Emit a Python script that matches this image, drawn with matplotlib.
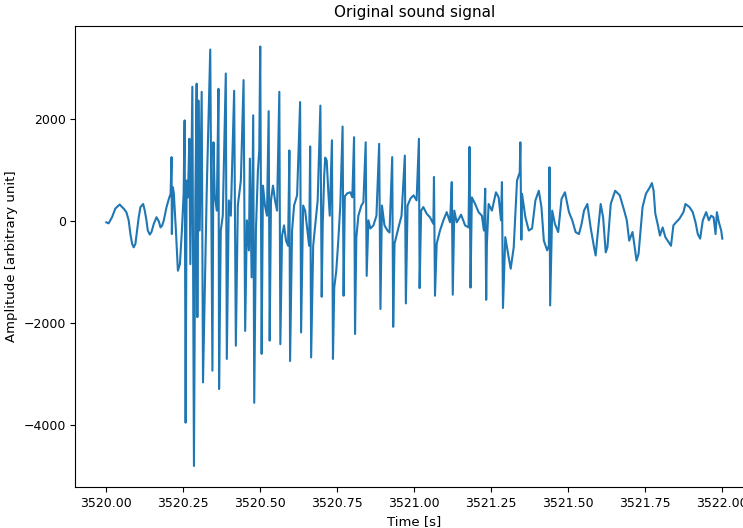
import matplotlib
matplotlib.use("Agg")
import matplotlib.pyplot as plt

# samples (time in s, amplitude in arbitrary units)
time_s = [
    3520.0000, 3520.0075, 3520.0186, 3520.0293, 3520.0434, 3520.0512, 3520.0564, 3520.0652,
    3520.0727, 3520.0783, 3520.0838, 3520.0890, 3520.0946, 3520.1001, 3520.1053, 3520.1109,
    3520.1197, 3520.1249, 3520.1304, 3520.1347, 3520.1412, 3520.1467, 3520.1542, 3520.1630,
    3520.1705, 3520.1761, 3520.1816, 3520.1868, 3520.1956, 3520.2031, 3520.2087, 3520.2119,
    3520.2129, 3520.2162, 3520.2194, 3520.2260, 3520.2325, 3520.2390, 3520.2455, 3520.2511,
    3520.2543, 3520.2576, 3520.2608, 3520.2651, 3520.2696, 3520.2729, 3520.2794, 3520.2846,
    3520.2892, 3520.2934, 3520.2957, 3520.2990, 3520.3032, 3520.3097, 3520.3140, 3520.3205,
    3520.3261, 3520.3375, 3520.3446,
    3520.3479, 3520.3521, 3520.3587, 3520.3642, 3520.3662, 3520.3717, 3520.3782, 3520.3880,
    3520.3913, 3520.3978, 3520.4043, 3520.4151, 3520.4206, 3520.4271, 3520.4369, 3520.4457,
    3520.4509, 3520.4565, 3520.4630, 3520.4662, 3520.4718, 3520.4770, 3520.4803, 3520.4858,
    3520.4923, 3520.4966, 3520.4998, 3520.5044, 3520.5086, 3520.5152, 3520.5217, 3520.5272,
    3520.5305, 3520.5347, 3520.5412, 3520.5478, 3520.5543, 3520.5618, 3520.5651, 3520.5706,
    3520.5771, 3520.5836, 3520.5902, 3520.5944, 3520.5967, 3520.6032, 3520.6097, 3520.6195,
    3520.6293, 3520.6325, 3520.6391, 3520.6456, 3520.6521, 3520.6586, 3520.6619, 3520.6651,
    3520.6717, 3520.6782, 3520.6863, 3520.6951, 3520.6994,
    3520.7026, 3520.7075, 3520.7108, 3520.7157, 3520.7206, 3520.7255, 3520.7326, 3520.7359,
    3520.7401, 3520.7467, 3520.7532, 3520.7597, 3520.7672, 3520.7705, 3520.7744, 3520.7825,
    3520.7923, 3520.7988, 3520.8044, 3520.8076, 3520.8118, 3520.8184, 3520.8282, 3520.8347,
    3520.8422, 3520.8454, 3520.8510, 3520.8575, 3520.8673, 3520.8771, 3520.8859, 3520.8901,
    3520.8950, 3520.9032, 3520.9129, 3520.9195, 3520.9283, 3520.9315, 3520.9358, 3520.9423,
    3520.9504, 3520.9586, 3520.9693, 3520.9726, 3520.9782, 3520.9879, 3520.9977, 3521.0075,
    3521.0150, 3521.0173, 3521.0222,
    3521.0293, 3521.0401, 3521.0508, 3521.0619, 3521.0639, 3521.0672, 3521.0727, 3521.0835,
    3521.0945, 3521.1053, 3521.1161, 3521.1216, 3521.1249, 3521.1298, 3521.1379, 3521.1519,
    3521.1650, 3521.1761, 3521.1793, 3521.1826, 3521.1868, 3521.1976, 3521.2087, 3521.2194,
    3521.2259, 3521.2302, 3521.2334, 3521.2357, 3521.2413, 3521.2520, 3521.2651, 3521.2739,
    3521.2814, 3521.2846, 3521.2879, 3521.2954, 3521.3065, 3521.3130, 3521.3228, 3521.3335,
    3521.3423, 3521.3443, 3521.3476, 3521.3498, 3521.3606, 3521.3717, 3521.3824, 3521.3932,
    3521.4043, 3521.4128, 3521.4206, 3521.4314, 3521.4369, 3521.4389, 3521.4411, 3521.4477,
    3521.4565, 3521.4672, 3521.4780, 3521.4891, 3521.5021, 3521.5129, 3521.5236, 3521.5347,
    3521.5432, 3521.5510, 3521.5618, 3521.5725, 3521.5836, 3521.5888, 3521.5944, 3521.6051,
    3521.6130, 3521.6215, 3521.6270, 3521.6378, 3521.6521, 3521.6671, 3521.6815, 3521.6899,
    3521.6977, 3521.7085, 3521.7140, 3521.7215, 3521.7281, 3521.7411, 3521.7519, 3521.7649,
    3521.7714, 3521.7770, 3521.7825, 3521.7900, 3521.7975, 3521.8063, 3521.8151, 3521.8259,
    3521.8334, 3521.8412, 3521.8497, 3521.8608, 3521.8738, 3521.8803, 3521.8934, 3521.9041,
    3521.9130, 3521.9204, 3521.9280, 3521.9367, 3521.9475, 3521.9563, 3521.9638, 3521.9716,
    3521.9781, 3521.9824, 3521.9889, 3521.9964, 3522.0000,
]

amplitude = [
    -20, -40, 80, 250, 330, 280, 250, 180,
    20, -250, -440, -510, -440, -180, 80, 280,
    340, 210, 20, -180, -260, -210, -50, 80,
    0, -120, -80, 20, 280, 440, 540, 1260,
    -250, 670, 540, -180, -970, -840, -180, 540,
    1980, -3950, 800, 470, 1620, -840, 2640, -4800,
    470, 2700, -1880, 2370, -180, 2540, -3160, -1100,
    600, 3370, -2930,
    1550, 510, 210, 2600, -3290, -180, 110, 2900,
    -2700, 410, 110, 2560, -2440, 310, 800, 2770,
    -2150, 20, -570, 1230, -1100, 2080, -3560, -180,
    1000, 1390, 3430, -2600, 700, 310, 110, 2160,
    -2340, 410, 700, 410, 210, 2540, -2410, -280,
    -80, -380, -480, 1390, -2740, -180, 310, 510,
    2340, -2180, 310, 210, -140, -480, 1470, -2670,
    -480, -80, 410, 2270, -1480,
    -80, 900, 1250, 1190, 600, 110, 1590, -2700,
    -1300, -970, -380, 310, 1860, -1460, 490, 550,
    570, 470, 1650, -2210, -320, 110, 310, 370,
    1550, -1070, 20, -140, -80, 110, 1520, -1720,
    310, -80, -180, -220, 1260, -2070, -440, -280,
    -80, 110, 1290, -1610, 310, 450, 510, 410,
    1620, -1310, 210,
    280, 150, 80, -50, 870, -1460, -440, -180,
    20, 180, -20, 770, -1440, 210, -20, 130,
    -80, -120, 1460, -1300, 470, 340, 180, 110,
    -180, 640, -1540, -440, 340, 210, 570, 470,
    20, 770, -1700, -310, -710, -930, -510, 800,
    960, 1550, -360, 540, 80, -180, -140, 410,
    600, 280, -380, -570, -480, 1060, -1650, 210,
    -50, -210, 440, 570, 180, 20, -210, -250,
    -50, 210, 340, -120, -510, -670, -310, 340,
    80, -610, -510, 340, 600, 510, 210, 20,
    -380, -210, -440, -770, -640, 280, 540, 670,
    750, 600, 150, -50, -280, -120, -310, -410,
    -480, -80, -20, 50, 180, 340, 280, 180,
    -20, -250, -340, 20, 180, 20, 110, 80,
    -250, 180, -20, -180, -340,
]

fig = plt.figure(figsize=(7.43, 5.28), dpi=100)
ax = fig.add_axes([0.1016, 0.0777, 0.912, 0.874])

ax.plot(time_s, amplitude, color='#1f77b4', linewidth=1.5)

ax.set_title('Original sound signal', fontsize=11)
ax.set_xlabel('Time [s]', fontsize=9.5)
ax.set_ylabel('Amplitude [arbitrary unit]', fontsize=9.5)
ax.set_xticks([3520.0, 3520.25, 3520.5, 3520.75, 3521.0, 3521.25, 3521.5, 3521.75, 3522.0])
ax.xaxis.set_major_formatter(matplotlib.ticker.FormatStrFormatter('%.2f'))
ax.tick_params(labelsize=9)

fig.savefig('out.png', dpi=100)
